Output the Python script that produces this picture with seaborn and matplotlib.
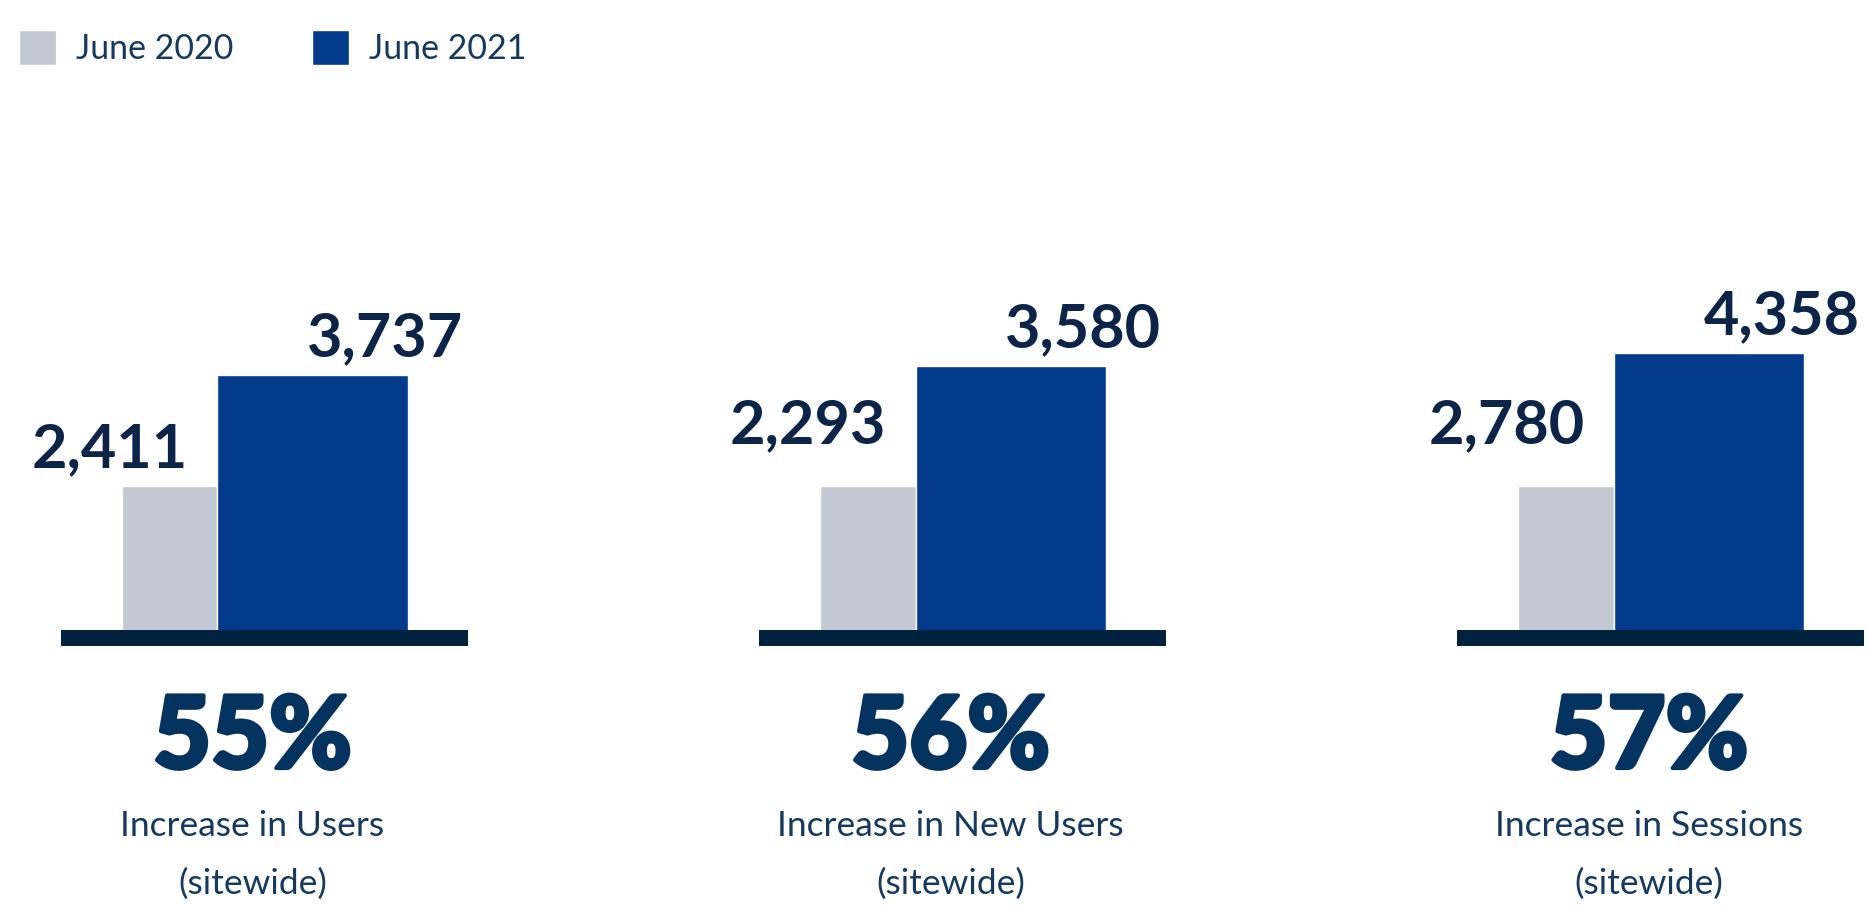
import pandas as pd
import seaborn as sns
import matplotlib.pyplot as plt
import matplotlib.patheffects as pe
from matplotlib.patches import Patch

# Dados do infográfico
periods = ['June 2020', 'June 2021']
metrics = ['Users', 'New Users', 'Sessions']
june_2020 = [2411, 2293, 2780]
june_2021 = [3737, 3580, 4358]
pct_increase = ['55%', '56%', '57%']
captions = ['Increase in Users', 'Increase in New Users', 'Increase in Sessions']

colors = {'June 2020': '#c2c9d3', 'June 2021': '#023a8c'}
label_color = '#0b2447'
pct_color = '#05335f'
caption_color = '#15395f'
base_color = '#00223f'

# the original bars don't start at zero, so every panel gets its own range
y_ranges = [(595, 5230), (663, 4824), (981, 5574)]
gray_label_dy = [13.7, 31, 31]

bar_x = {'June 2020': 0, 'June 2021': 1.5}
bar_w = {'June 2020': 1, 'June 2021': 2}

df = pd.DataFrame({
    'metric': [m for m in metrics for _ in periods],
    'period': periods * len(metrics),
    'value': [v for pair in zip(june_2020, june_2021) for v in pair],
})
df['x'] = df['period'].map(bar_x)

sns.set_style('white')
plt.rcParams['font.family'] = ['Lato', 'DejaVu Sans']

W, H = 1867, 907
fig = plt.figure(figsize=(W / 100, H / 100), dpi=100)

for i, metric in enumerate(metrics):
    left = 61 + i * 698.2
    ax = fig.add_axes([left / W, 1 - 638 / H, 407 / W, 388 / H])
    sub = df[df['metric'] == metric]
    for period in periods:
        d = sub[sub['period'] == period]
        sns.barplot(data=d, x='x', y='value', native_scale=True, orient='x',
                    width=bar_w[period], color=colors[period], saturation=1,
                    errorbar=None, ax=ax, zorder=1)
        v = d['value'].iloc[0]
        right = bar_x[period] + bar_w[period] / 2
        if period == 'June 2020':
            off = (-20.9, gray_label_dy[i])
        else:
            off = (39.6, 13.7)
        ax.annotate(f'{v:,}', xy=(right, v), xytext=off, textcoords='offset points',
                    ha='right', va='baseline', fontsize=44, fontweight='bold',
                    color=label_color, annotation_clip=False)

    ax.set_xlim(-1.14, 3.13)
    ax.set_ylim(*y_ranges[i])
    ax.axhline(y_ranges[i][0], color=base_color, lw=11.5, solid_capstyle='butt',
               clip_on=False, zorder=3)
    ax.axis('off')

    # percentages: heavier look than Lato Bold gives on its own
    ax.annotate(pct_increase[i], xy=(0.4705, 0), xycoords='axes fraction',
                xytext=(0, -93.6), textcoords='offset points', ha='center',
                va='baseline', fontsize=72, fontweight='black', color=pct_color,
                path_effects=[pe.withStroke(linewidth=3, foreground=pct_color)])
    ax.annotate(captions[i], xy=(0.4705, 0), xycoords='axes fraction',
                xytext=(0, -142.6), textcoords='offset points', ha='center',
                va='baseline', fontsize=25.5, color=caption_color)
    ax.annotate('(sitewide)', xy=(0.4705, 0), xycoords='axes fraction',
                xytext=(0, -184), textcoords='offset points', ha='center',
                va='baseline', fontsize=25.5, color=caption_color)

handles = [Patch(facecolor=colors[p], label=p) for p in periods]
fig.legend(handles=handles, loc='upper left', bbox_to_anchor=(18.7 / W, 1 - 30 / H),
           ncol=2, frameon=False, fontsize=24.4, handlelength=1.1, handleheight=1.2,
           handletextpad=0.6, columnspacing=2.3, borderpad=0, borderaxespad=0,
           labelcolor=caption_color)

fig.savefig('out.png', dpi=100)
plt.close()
